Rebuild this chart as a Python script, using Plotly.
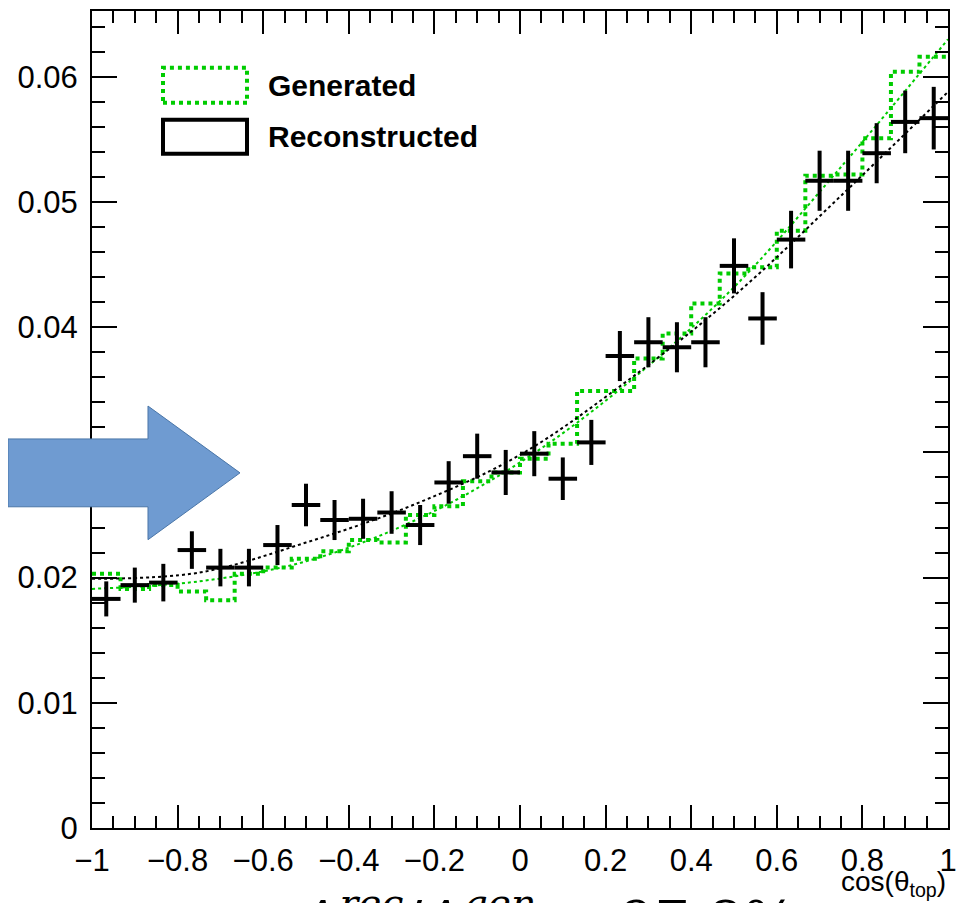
import numpy as np
import plotly.graph_objects as go

# ---------------- data ----------------
bin_edges = np.linspace(-1.0, 1.0, 31)
bin_centers = 0.5 * (bin_edges[:-1] + bin_edges[1:])

generated = [0.0203, 0.0191, 0.0194, 0.0189, 0.0182, 0.0203, 0.0208, 0.0215, 0.0221, 0.0230,
             0.0228, 0.0250, 0.0257, 0.0277, 0.0284, 0.0295, 0.0307, 0.0349, 0.0349, 0.0375,
             0.0395, 0.0419, 0.0443, 0.0448, 0.0477, 0.0521, 0.0522, 0.0551, 0.0604, 0.0616]

reconstructed = [0.0183, 0.0194, 0.0196, 0.0222, 0.0208, 0.0208, 0.0226, 0.0258, 0.0246, 0.0247,
                 0.0252, 0.0242, 0.0276, 0.0297, 0.0284, 0.0299, 0.0279, 0.0308, 0.0377, 0.0388,
                 0.0384, 0.0388, 0.0449, 0.0407, 0.0470, 0.0517, 0.0517, 0.0539, 0.0564, 0.0567]

reconstructed_err = [0.0014, 0.0014, 0.0015, 0.0015, 0.0015, 0.0015, 0.0016, 0.0017, 0.0016, 0.0016,
                     0.0017, 0.0016, 0.0017, 0.0018, 0.0018, 0.0018, 0.0017, 0.0018, 0.0020, 0.0020,
                     0.0020, 0.0020, 0.0022, 0.0021, 0.0023, 0.0024, 0.0024, 0.0024, 0.0025, 0.0025]

fit_x = [-1.0, -0.75, -0.5, -0.25, 0.0, 0.25, 0.5, 0.75, 1.0]
fit_generated = [0.0191, 0.0197, 0.0213, 0.0245, 0.0292, 0.0355, 0.0432, 0.0528, 0.0630]
fit_reconstructed = [0.0199, 0.0204, 0.0228, 0.0258, 0.0298, 0.0357, 0.0425, 0.0505, 0.0588]

legend_labels = ["Generated", "Reconstructed"]
x_title = "cos(θ<sub>top</sub>)"
bottom_text = "<i>A</i><sup><i>rec</i></sup>/<i>A</i><sup><i>gen</i></sup> = 97.8%"

GREEN = "#00cc00"

# ---------------- geometry (page pixels -> paper) ----------------
# The page body has an 8px default margin, so the figure is drawn 8px in/down.
OFF = 8
W, H = 965 - OFF, 903 - OFF
X0, X1 = 92, 948          # plot area in page pixels
Y0, Y1 = 9, 828
L, R = X0 - OFF, W - (X1 - OFF)
T, B = Y0 - OFF, H - (Y1 - OFF)
PW, PH = W - L - R, H - T - B


def px(x):
    return (x - X0) / PW


def py(y):
    return (Y1 - y) / PH


YTOP = (Y1 - Y0) / 12550.0

fig = go.Figure()

# generated histogram (step, dotted)
fig.add_trace(go.Scatter(
    x=list(bin_edges), y=list(generated) + [generated[-1]],
    mode="lines", line=dict(color=GREEN, width=4, dash="dot", shape="hv"),
    showlegend=False, hoverinfo="skip"))

# fit curves
fig.add_trace(go.Scatter(
    x=fit_x, y=fit_generated, mode="lines",
    line=dict(color=GREEN, width=2, dash="dot", shape="spline"),
    showlegend=False, hoverinfo="skip"))
fig.add_trace(go.Scatter(
    x=fit_x, y=fit_reconstructed, mode="lines",
    line=dict(color="black", width=2, dash="dot", shape="spline"),
    showlegend=False, hoverinfo="skip"))

# reconstructed points with error crosses
fig.add_trace(go.Scatter(
    x=list(bin_centers), y=reconstructed, mode="markers",
    marker=dict(size=1, color="black"),
    error_y=dict(type="data", array=reconstructed_err, color="black", thickness=4, width=0),
    error_x=dict(type="constant", value=(bin_edges[1] - bin_edges[0]) / 2, color="black",
                 thickness=4, width=0),
    showlegend=False))

axis_font = dict(family="Liberation Sans, Arial, sans-serif", size=31, color="black")

fig.update_xaxes(
    range=[-1, 1], tick0=-1, dtick=0.2, ticks="inside", ticklen=23, tickwidth=2,
    tickcolor="black", showline=True, linecolor="black", linewidth=2, mirror="allticks",
    showgrid=False, zeroline=False, tickfont=axis_font, ticklabelstandoff=4,
    minor=dict(dtick=0.05, tick0=-1, ticks="inside", ticklen=12, tickwidth=2,
               tickcolor="black", showgrid=False))
fig.update_yaxes(
    range=[0, YTOP], tick0=0, dtick=0.01, ticks="inside", ticklen=25, tickwidth=2,
    tickcolor="black", showline=True, linecolor="black", linewidth=2, mirror="allticks",
    showgrid=False, zeroline=False, tickfont=axis_font, ticklabelstandoff=6,
    minor=dict(dtick=0.002, tick0=0, ticks="inside", ticklen=13, tickwidth=2,
               tickcolor="black", showgrid=False))

shapes = []
# legend boxes
shapes.append(dict(type="rect", xref="paper", yref="paper",
                   x0=px(163), x1=px(247), y0=py(101), y1=py(66),
                   line=dict(color=GREEN, width=4, dash="dot")))
shapes.append(dict(type="rect", xref="paper", yref="paper",
                   x0=px(163), x1=px(247), y0=py(152), y1=py(118),
                   line=dict(color="black", width=4)))
# blue arrow
arrow_pts = [(OFF, 438), (148, 438), (148, 405), (240, 472), (148, 539), (148, 506), (OFF, 506)]
path = "M " + " L ".join(f"{px(a):.5f},{py(b):.5f}" for a, b in arrow_pts) + " Z"
shapes.append(dict(type="path", xref="paper", yref="paper", path=path,
                   fillcolor="#6f9bd1", line=dict(color="#4a76a8", width=1), layer="above"))

annotations = [
    dict(text=legend_labels[0], x=px(266), y=py(84), xref="paper", yref="paper",
         xanchor="left", yanchor="middle", showarrow=False,
         font=dict(family="Liberation Sans, Arial, sans-serif", size=30, color="black",
                   weight="bold")),
    dict(text=legend_labels[1], x=px(266), y=py(135), xref="paper", yref="paper",
         xanchor="left", yanchor="middle", showarrow=False,
         font=dict(family="Liberation Sans, Arial, sans-serif", size=30, color="black",
                   weight="bold")),
    dict(text=x_title, x=1.0, y=py(864), xref="paper", yref="paper",
         xanchor="right", yanchor="top", showarrow=False,
         font=dict(family="Liberation Sans, Arial, sans-serif", size=28, color="black")),
    dict(text=bottom_text, x=px(545), y=py(879), xref="paper", yref="paper",
         xanchor="center", yanchor="top", showarrow=False,
         font=dict(family="DejaVu Serif, serif", size=56, color="black")),
]

fig.update_layout(
    width=W, height=H, margin=dict(l=L, r=R, t=T, b=B),
    paper_bgcolor="white", plot_bgcolor="white",
    shapes=shapes, annotations=annotations, showlegend=False)

fig.write_html("out.html")
